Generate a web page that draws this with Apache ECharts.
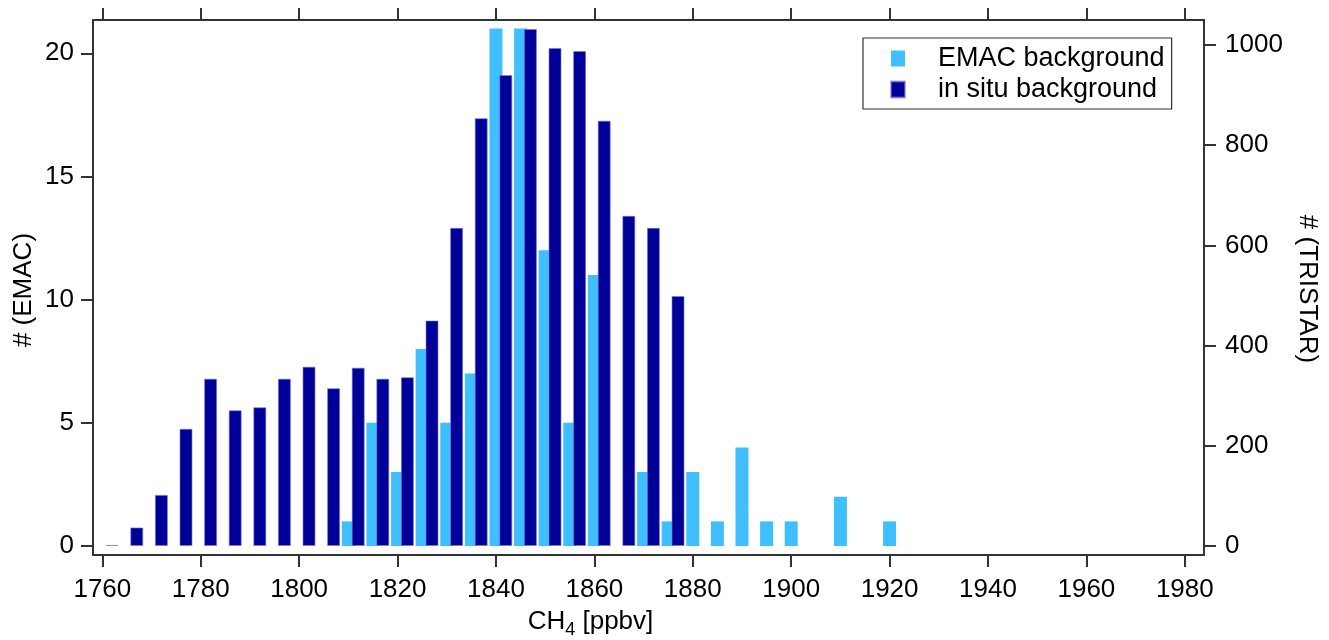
<!DOCTYPE html>
<html>
<head>
<meta charset="utf-8">
<script src="https://cdn.jsdelivr.net/npm/echarts@6/dist/echarts.min.js"></script>
<style>html,body{margin:0;padding:0;background:#fff;}#c{width:1329px;height:640px;}</style>
</head>
<body>
<div id="c"></div>
<script>
// ---- data ----
var emacX = [1810,1815,1820,1825,1830,1835,1840,1845,1850,1855,1860,1865,1870,1875,1880,1885,1890,1895,1900,1905,1910,1915,1920];
var emacY = [1,5,3,8,5,7,21,21,12,5,11,0,3,1,3,1,4,1,1,0,2,0,1];
var situX = [1762,1767,1772,1777,1782,1787,1792,1797,1802,1807,1812,1817,1822,1827,1832,1837,1842,1847,1852,1857,1862,1867,1872,1877];
var situY = [2,37,102,234,334,271,277,334,358,315,356,334,337,450,635,854,940,1032,994,988,849,659,635,499];
var xTicks = [1760,1780,1800,1820,1840,1860,1880,1900,1920,1940,1960,1980];
var leftTicks = [0,5,10,15,20];
var rightTicks = [0,200,400,600,800,1000];
var seriesNames = ['EMAC background','in situ background'];

var FONT = 'Liberation Sans, Arial, sans-serif';
var AX = '#333';
function pairs(xs, ys){ return xs.map(function(x,i){ return [x, ys[i]]; }); }
function plain(v){ return String(v); }

var chart = echarts.init(document.getElementById('c'), null, {renderer:'canvas'});
var xBase = {
  type:'value', min:1758.1, max:1983.9,
  axisLine:{show:true, onZero:false, lineStyle:{color:AX, width:2}},
  axisTick:{show:true, inside:false, length:12, lineStyle:{color:AX, width:2}, customValues:xTicks},
  splitLine:{show:false}
};
chart.setOption({
  animation:false,
  backgroundColor:'#fff',
  grid:{left:93, right:125, top:20, bottom:85, containLabel:false},
  legend:{
    data:seriesNames, orient:'vertical', left:863, top:38,
    icon:'rect', itemWidth:14, itemHeight:16, itemGap:4,
    padding:[7,7,6,27], borderColor:'#333', borderWidth:1.2,
    selectedMode:false,
    textStyle:{fontFamily:FONT, fontSize:27, color:'#000', lineHeight:26, padding:[0,0,0,28]}
  },
  xAxis:[
    Object.assign({}, xBase, {position:'bottom',
      axisLabel:{show:true, fontFamily:FONT, fontSize:26, color:'#000', margin:22, customValues:xTicks, formatter:plain}}),
    Object.assign({}, xBase, {position:'top', axisLabel:{show:false}})
  ],
  yAxis:[
    {type:'value', position:'left', min:-0.365, max:21.35,
     axisLine:{show:true, onZero:false, lineStyle:{color:AX, width:2}},
     axisTick:{show:true, length:12, lineStyle:{color:AX, width:2}, customValues:leftTicks},
     axisLabel:{fontFamily:FONT, fontSize:26, color:'#000', margin:19, customValues:leftTicks, formatter:plain},
     splitLine:{show:false}},
    {type:'value', position:'right', min:-17.96, max:1049.9,
     axisLine:{show:true, onZero:false, lineStyle:{color:AX, width:2}},
     axisTick:{show:true, length:12, lineStyle:{color:AX, width:2}, customValues:rightTicks},
     axisLabel:{fontFamily:FONT, fontSize:26, color:'#000', margin:21, customValues:rightTicks, formatter:plain},
     splitLine:{show:false}}
  ],
  series:[
    {name:seriesNames[0], type:'bar', xAxisIndex:0, yAxisIndex:0, barWidth:13,
     itemStyle:{color:'#40BFFF'}, data:pairs(emacX, emacY)},
    {name:seriesNames[1], type:'bar', xAxisIndex:1, yAxisIndex:1, barWidth:13,
     itemStyle:{color:'#000099', borderColor:'rgba(120,120,220,0.6)', borderWidth:1}, data:pairs(situX, situY)}
  ],
  graphic:[
    {type:'text', x:23.5, y:290, rotation:Math.PI/2,
     style:{text:'# (EMAC)', fontFamily:FONT, fontSize:26, fill:'#000', align:'center', verticalAlign:'middle'}},
    {type:'text', x:1307, y:289, rotation:-Math.PI/2,
     style:{text:'# (TRISTAR)', fontFamily:FONT, fontSize:26, fill:'#000', align:'center', verticalAlign:'middle'}},
    {type:'text', x:590.5, y:621.5,
     style:{text:'{a|CH}{b|4}{a| [ppbv]}', align:'center', verticalAlign:'middle',
       rich:{a:{fontFamily:FONT, fontSize:26, fill:'#000', lineHeight:36},
             b:{fontFamily:FONT, fontSize:18, fill:'#000', lineHeight:18, padding:[18,0,0,0]}}}}
  ]
});
</script>
</body>
</html>
